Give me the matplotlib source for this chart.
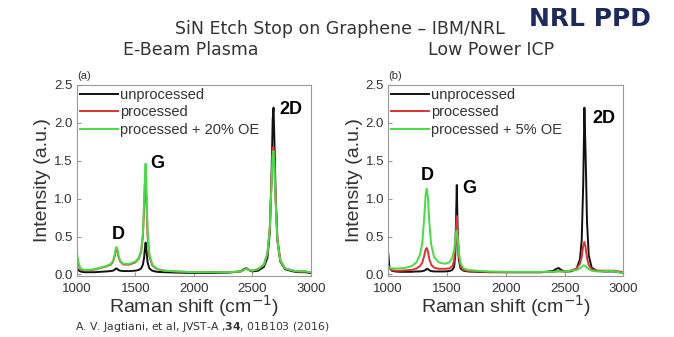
import matplotlib
matplotlib.use("Agg")
import matplotlib.pyplot as plt

plt.rcParams["font.family"] = ["Liberation Sans", "DejaVu Sans"]

# Raman spectra, panel (a): E-beam plasma
shift_a = [1000, 1010, 1030, 1060, 1100, 1150, 1200, 1250, 1290, 1310,
           1325, 1335, 1345, 1355, 1370, 1400, 1450, 1500, 1530, 1550,
           1565, 1575, 1582, 1588, 1595, 1605, 1620, 1645, 1685, 1750,
           1850, 2000, 2150, 2300, 2400, 2430, 2450, 2470, 2500, 2550,
           2600, 2630, 2650, 2665, 2675, 2682, 2690, 2700, 2715, 2740,
           2780, 2850, 2900, 2950, 3000]
unproc_a = [0.10, 0.06, 0.04, 0.03, 0.03, 0.03, 0.035, 0.04, 0.045, 0.05,
            0.065, 0.08, 0.075, 0.06, 0.05, 0.045, 0.045, 0.05, 0.06, 0.08,
            0.13, 0.22, 0.34, 0.42, 0.32, 0.16, 0.08, 0.05, 0.035, 0.03,
            0.025, 0.02, 0.02, 0.025, 0.04, 0.07, 0.085, 0.06, 0.04, 0.05,
            0.10, 0.22, 0.55, 1.30, 2.05, 2.20, 1.75, 1.05, 0.45, 0.17,
            0.07, 0.04, 0.03, 0.03, 0.02]
proc_a = [0.25, 0.15, 0.07, 0.055, 0.055, 0.065, 0.085, 0.105, 0.13, 0.17,
          0.25, 0.33, 0.32, 0.24, 0.17, 0.13, 0.13, 0.16, 0.21, 0.30,
          0.50, 0.85, 1.18, 1.28, 1.00, 0.50, 0.24, 0.12, 0.07, 0.05,
          0.04, 0.03, 0.03, 0.03, 0.04, 0.06, 0.08, 0.06, 0.05, 0.07,
          0.13, 0.28, 0.62, 1.25, 1.65, 1.68, 1.45, 1.00, 0.48, 0.19,
          0.08, 0.05, 0.04, 0.04, 0.03]
oe_a = [0.30, 0.18, 0.08, 0.06, 0.06, 0.07, 0.09, 0.11, 0.14, 0.18,
        0.27, 0.36, 0.35, 0.26, 0.18, 0.14, 0.14, 0.17, 0.22, 0.32,
        0.55, 0.95, 1.30, 1.46, 1.15, 0.58, 0.27, 0.13, 0.075, 0.05,
        0.04, 0.03, 0.03, 0.03, 0.04, 0.06, 0.08, 0.06, 0.05, 0.07,
        0.13, 0.28, 0.60, 1.20, 1.58, 1.63, 1.42, 0.95, 0.45, 0.18,
        0.08, 0.05, 0.04, 0.04, 0.03]

# panel (b): low power ICP
shift_b = [1000, 1010, 1030, 1060, 1100, 1150, 1200, 1240, 1270, 1290,
           1305, 1318, 1328, 1338, 1350, 1365, 1390, 1430, 1480, 1520,
           1545, 1560, 1570, 1577, 1583, 1590, 1600, 1615, 1640, 1680,
           1750, 1850, 2000, 2150, 2300, 2400, 2430, 2450, 2470, 2500,
           2550, 2600, 2630, 2645, 2658, 2668, 2678, 2690, 2705, 2730,
           2770, 2830, 2880, 2920, 2960, 3000]
unproc_b = [0.28, 0.10, 0.05, 0.04, 0.035, 0.035, 0.035, 0.04, 0.04, 0.045,
            0.05, 0.06, 0.075, 0.07, 0.055, 0.045, 0.04, 0.04, 0.04, 0.045,
            0.06, 0.10, 0.25, 0.75, 1.18, 0.60, 0.20, 0.08, 0.05, 0.04,
            0.035, 0.03, 0.03, 0.03, 0.03, 0.045, 0.075, 0.085, 0.06, 0.04,
            0.04, 0.07, 0.20, 0.45, 1.20, 2.20, 1.60, 0.70, 0.25, 0.09,
            0.05, 0.04, 0.04, 0.04, 0.03, 0.02]
proc_b = [0.12, 0.08, 0.06, 0.05, 0.05, 0.055, 0.06, 0.08, 0.11, 0.16,
          0.24, 0.33, 0.35, 0.30, 0.20, 0.13, 0.09, 0.075, 0.075, 0.08,
          0.11, 0.18, 0.35, 0.62, 0.77, 0.55, 0.25, 0.11, 0.06, 0.045,
          0.04, 0.035, 0.03, 0.03, 0.03, 0.035, 0.04, 0.045, 0.04, 0.04,
          0.05, 0.08, 0.14, 0.23, 0.38, 0.43, 0.36, 0.22, 0.12, 0.07,
          0.05, 0.05, 0.05, 0.05, 0.04, 0.03]
oe_b = [0.10, 0.09, 0.08, 0.08, 0.08, 0.09, 0.11, 0.16, 0.26, 0.42,
        0.72, 1.05, 1.13, 1.00, 0.68, 0.40, 0.23, 0.16, 0.14, 0.16,
        0.22, 0.32, 0.45, 0.55, 0.58, 0.48, 0.30, 0.15, 0.08, 0.06,
        0.05, 0.04, 0.035, 0.035, 0.035, 0.035, 0.04, 0.04, 0.04, 0.04,
        0.05, 0.06, 0.08, 0.10, 0.12, 0.12, 0.11, 0.09, 0.07, 0.05,
        0.04, 0.04, 0.05, 0.04, 0.03, 0.02]

# peak labels: (text, x, y)
peaks_a = [("D", 1350, 0.53), ("G", 1690, 1.46), ("2D", 2830, 2.17)]
peaks_b = [("D", 1332, 1.30), ("G", 1690, 1.13), ("2D", 2830, 2.06)]

COLORS = ["#111111", "#dd3333", "#44dd44"]


def draw_panel(ax, shift, series, labels, peaks, tag):
    for y, c, lab in zip(series, COLORS, labels):
        ax.plot(shift, y, color=c, lw=1.4, label=lab)
    ax.set_xlim(1000, 3000)
    ax.set_ylim(-0.02, 2.5)
    ax.set_xticks([1000, 1500, 2000, 2500, 3000])
    ax.set_yticks([0.0, 0.5, 1.0, 1.5, 2.0, 2.5])
    ax.set_yticklabels(["0.0", "0.5", "1.0", "1.5", "2.0", "2.5"])
    ax.tick_params(direction="in", length=3, labelsize=9.5, colors="#999999",
                   labelcolor="#333333")
    ax.tick_params(axis="x", pad=5)
    ax.tick_params(axis="y", pad=3)
    for sp in ax.spines.values():
        sp.set_color("#999999")
    ax.set_xlabel("Raman shift (cm$^{-1}$)", fontsize=14, color="#333333", labelpad=-1)
    ax.set_ylabel("Intensity (a.u.)", fontsize=14, color="#333333", labelpad=2)
    for txt, x, y in peaks:
        ax.text(x, y, txt, fontsize=13, fontweight="bold", ha="center", va="center")
    ax.text(0.0, 1.02, tag, transform=ax.transAxes, fontsize=8, color="#333333",
            ha="left", va="bottom")
    ax.legend(loc="upper left", frameon=False, fontsize=10.5, handlelength=2.6,
              handletextpad=0.15, labelspacing=0.25, borderaxespad=0.1,
              borderpad=0.1, labelcolor="#333333")


fig = plt.figure(figsize=(6.74, 3.37), dpi=100)
ax_a = fig.add_axes([0.114, 0.181, 0.347, 0.567])
ax_b = fig.add_axes([0.576, 0.181, 0.349, 0.567])

draw_panel(ax_a, shift_a, [unproc_a, proc_a, oe_a],
           ["unprocessed", "processed", "processed + 20% OE"], peaks_a, "(a)")
draw_panel(ax_b, shift_b, [unproc_b, proc_b, oe_b],
           ["unprocessed", "processed", "processed + 5% OE"], peaks_b, "(b)")

fig.text(0.505, 0.915, "SiN Etch Stop on Graphene \u2013 IBM/NRL", family="DejaVu Sans",
         fontsize=12.5, color="#333333", ha="center", va="center")
fig.text(0.283, 0.852, "E-Beam Plasma", family="DejaVu Sans", fontsize=12.5,
         color="#333333", ha="center", va="center")
fig.text(0.729, 0.852, "Low Power ICP", family="DejaVu Sans", fontsize=12.5,
         color="#333333", ha="center", va="center")
fig.text(0.875, 0.945, "NRL PPD", family="DejaVu Sans", fontsize=18, fontweight="bold",
         color="#1c2a5c", ha="center", va="center")
fig.text(0.111, 0.03, "A. V. Jagtiani, et al, JVST-A ,$\\mathbf{34}$, 01B103 (2016)",
         family="DejaVu Sans", fontsize=7.8, color="#333333", ha="left", va="center")

fig.savefig("out.png", dpi=100)
